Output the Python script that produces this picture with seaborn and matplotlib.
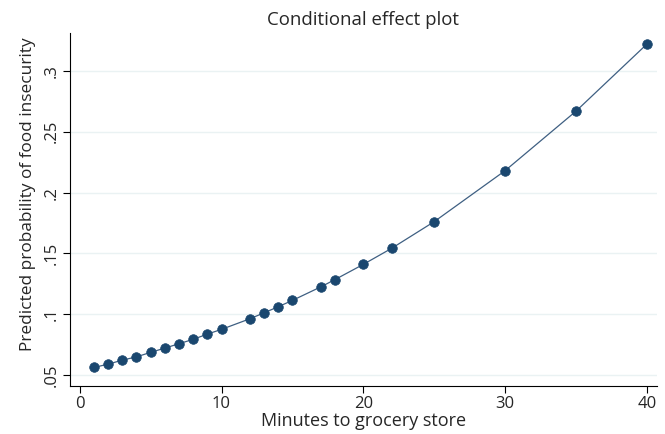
import matplotlib
matplotlib.use("Agg")
import matplotlib.pyplot as plt
import seaborn as sns
import pandas as pd

minutes = [1, 2, 3, 4, 5, 6, 7, 8, 9, 10, 12, 13, 14, 15, 17, 18, 20, 22, 25, 30, 35, 40]
prob = [0.0563, 0.0590, 0.0623, 0.0650, 0.0687, 0.0722, 0.0758, 0.0794, 0.0837, 0.0876,
        0.0963, 0.1012, 0.1062, 0.1114, 0.1225, 0.1285, 0.1410, 0.1542, 0.1761, 0.2180,
        0.2669, 0.3220]
xticks = [0, 10, 20, 30, 40]
yticks = [0.05, 0.1, 0.15, 0.2, 0.25, 0.3]
yticklabels = [".05", ".1", ".15", ".2", ".25", ".3"]

df = pd.DataFrame({"minutes": minutes, "prob": prob})

sns.set_theme(style="white")
plt.rcParams["font.family"] = ["Open Sans", "DejaVu Sans"]

fig = plt.figure(figsize=(6.65, 4.34), dpi=100)
ax = fig.add_axes([0.105, 0.111, 0.883, 0.813])

for y in yticks:
    ax.axhline(y, color="#eaf2f3", lw=1.0, zorder=0)

sns.lineplot(data=df, x="minutes", y="prob", ax=ax, color="#3e5f82", lw=0.9, zorder=2)
sns.scatterplot(data=df, x="minutes", y="prob", ax=ax, color="#1a476f", s=48,
                edgecolor="#1a476f", linewidth=0.5, zorder=3)

ax.set_xlim(-0.7, 40.72)
ax.set_ylim(0.0412, 0.3312)
ax.set_xticks(xticks)
ax.set_xticklabels([str(t) for t in xticks])
ax.set_yticks(yticks)
ax.set_yticklabels(yticklabels, rotation=90, va="center")
ax.tick_params(axis="both", which="major", direction="out", length=5, width=0.8,
               color="#000000", labelsize=12, bottom=True, left=True, pad=2)

for side in ["top", "right"]:
    ax.spines[side].set_visible(False)
for side in ["left", "bottom"]:
    ax.spines[side].set_color("#000000")
    ax.spines[side].set_linewidth(0.8)

ax.set_xlabel("Minutes to grocery store", fontsize=13, labelpad=0)
ax.set_ylabel("Predicted probability of food insecurity", fontsize=12.4)
ax.yaxis.set_label_coords(-0.058, 0.543)
ax.set_title("Conditional effect plot", fontsize=13.4, pad=6)

fig.savefig("out.png", dpi=100)
